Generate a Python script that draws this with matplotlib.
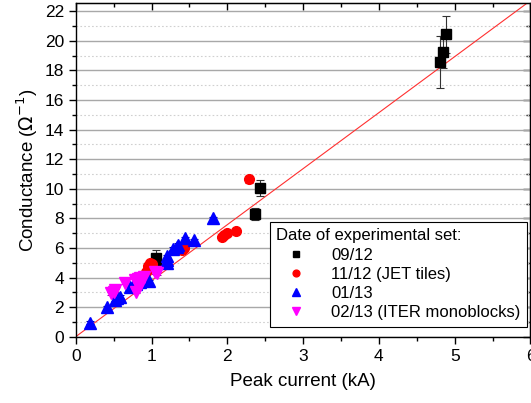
import matplotlib
matplotlib.use("Agg")
import matplotlib.pyplot as plt
from matplotlib.ticker import MultipleLocator

plt.rcParams['font.family'] = ['Liberation Sans', 'DejaVu Sans']

# 09/12
sq_x = [1.06, 1.06, 2.36, 2.43, 4.80, 4.85, 4.89]
sq_y = [5.00, 5.30, 8.29, 10.07, 18.55, 19.25, 20.45]
sq_e = [0.35, 0.55, 0.40, 0.55, 1.75, 1.10, 1.25]
# 11/12 (JET tiles)
ci_x = [0.93, 0.95, 0.96, 0.98, 1.00, 1.40, 1.43, 1.93, 1.96, 1.99, 2.12, 2.29]
ci_y = [4.40, 4.60, 4.80, 4.95, 4.90, 5.85, 6.00, 6.75, 6.90, 7.03, 7.12, 10.63]
ci_e = [0.15, 0.15, 0.15, 0.15, 0.15, 0.15, 0.15, 0.15, 0.15, 0.15, 0.15, 0.25]
# 01/13
tu_x = [0.19, 0.41, 0.52, 0.55, 0.58, 0.72, 0.75, 0.80, 0.85, 0.90, 0.97, 1.20, 1.20, 1.21,
        1.29, 1.33, 1.35, 1.44, 1.56, 1.81]
tu_y = [0.95, 2.00, 2.50, 2.60, 2.70, 3.35, 3.40, 3.55, 3.70, 3.80, 3.75, 5.00, 5.20, 5.45,
        5.95, 6.05, 6.20, 6.65, 6.53, 8.00]
tu_e = [0.1] * len(tu_x)
# 02/13 (ITER monoblocks)
td_x = [0.47, 0.50, 0.52, 0.65, 0.78, 0.80, 0.82, 0.83, 0.85, 0.88, 0.90, 1.05, 1.07]
td_y = [2.93, 3.05, 3.15, 3.65, 3.80, 3.04, 3.90, 3.38, 4.00, 3.90, 4.05, 4.35, 4.30]
td_e = [0.1] * len(td_x)

fit_slope = 3.785
fit_x = [0, 6]

fig = plt.figure(figsize=(5.31, 4.03), dpi=100)
ax = fig.add_axes([0.1426, 0.1645, 0.8564, 0.8273])

ax.plot(fit_x, [fit_slope * v for v in fit_x], color='#ff3030', lw=0.8, zorder=2)

ms = 7
ax.errorbar(sq_x, sq_y, yerr=sq_e, fmt='s', color='black', ms=ms, elinewidth=0.8,
            capsize=3, capthick=0.8, ecolor='#333333', label='09/12', zorder=3)
ax.errorbar(ci_x, ci_y, yerr=ci_e, fmt='o', color='red', ms=ms, elinewidth=0.8,
            capsize=3, capthick=0.8, ecolor='#cc0000', label='11/12 (JET tiles)', zorder=3)
ax.errorbar(tu_x, tu_y, yerr=tu_e, fmt='^', color='blue', ms=ms + 1, elinewidth=0.8,
            capsize=3, capthick=0.8, ecolor='#0000aa', label='01/13', zorder=3)
ax.errorbar(td_x, td_y, yerr=td_e, fmt='v', color='magenta', ms=ms + 1, elinewidth=0.8,
            capsize=3, capthick=0.8, ecolor='#aa00aa', label='02/13 (ITER monoblocks)', zorder=3)

ax.set_xlim(0, 6)
ax.set_ylim(0, 22.53)
ax.xaxis.set_major_locator(MultipleLocator(1))
ax.xaxis.set_minor_locator(MultipleLocator(0.5))
ax.yaxis.set_major_locator(MultipleLocator(2))
ax.yaxis.set_minor_locator(MultipleLocator(1))

ax.grid(True, which='major', axis='y', color='#a8a8a8', lw=1.0, zorder=0)
ax.grid(True, which='minor', axis='y', color='#d0d0d0', lw=0.8, ls=(0, (1.5, 2)), zorder=0)
ax.set_axisbelow(True)

ax.tick_params(axis='both', which='major', labelsize=12.5, direction='out', length=5, width=1)
ax.tick_params(axis='both', which='minor', direction='out', length=3, width=1)
ax.tick_params(top=False, right=False, which='both')

# top/right inward ticks
sec_x = ax.secondary_xaxis('top')
sec_x.xaxis.set_major_locator(MultipleLocator(1))
sec_x.xaxis.set_minor_locator(MultipleLocator(0.5))
sec_x.tick_params(which='major', direction='in', length=5, width=1, labeltop=False)
sec_x.tick_params(which='minor', direction='in', length=3, width=1)
sec_y = ax.secondary_yaxis('right')
sec_y.yaxis.set_major_locator(MultipleLocator(2))
sec_y.yaxis.set_minor_locator(MultipleLocator(1))
sec_y.tick_params(which='major', direction='in', length=5, width=1, labelright=False)
sec_y.tick_params(which='minor', direction='in', length=3, width=1)

for s in ax.spines.values():
    s.set_linewidth(1.0)

ax.set_xlabel('Peak current (kA)', fontsize=13.5, labelpad=7)
ax.set_ylabel('Conductance ($\\Omega^{-1}$)', fontsize=13.5, labelpad=3)

handles, labels = ax.get_legend_handles_labels()
handles = [h[0] for h in handles]
leg = ax.legend(handles, labels, title='Date of experimental set:', loc='lower right',
                bbox_to_anchor=(0.993, 0.03), fontsize=12, title_fontsize=12,
                frameon=True, fancybox=False, edgecolor='black', framealpha=1,
                markerscale=0.7, handlelength=2.4, handletextpad=0.9, borderpad=0.4,
                labelspacing=0.25, alignment='left', borderaxespad=0)
leg.get_frame().set_linewidth(0.8)

fig.savefig('out.png', dpi=100)
